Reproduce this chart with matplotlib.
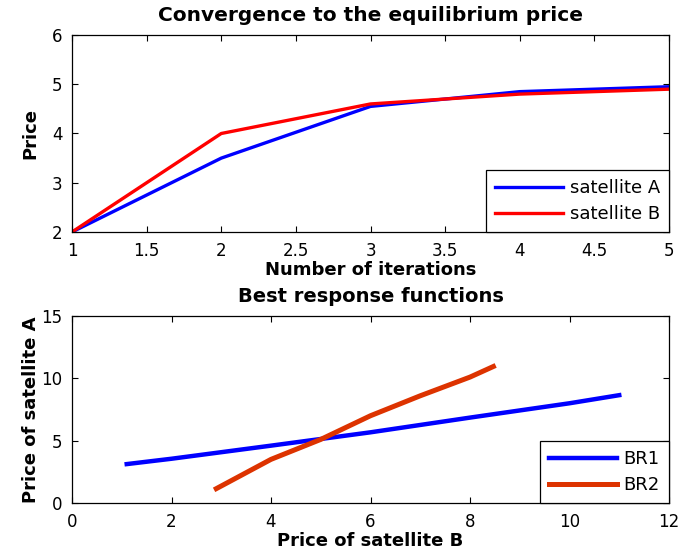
import numpy as np
import matplotlib
matplotlib.use('Agg')
import matplotlib.pyplot as plt

plt.rcParams['font.family'] = 'DejaVu Sans'

# iteration path of prices
iterations = [1, 2, 3, 4, 5]
price_a = [2.0, 3.5, 4.55, 4.85, 4.95]
price_b = [2.0, 4.0, 4.6, 4.8, 4.9]

# best response curves (price of B on x, price of A on y)
br1_x = [1.1, 2.0, 4.0, 6.0, 8.0, 10.0, 11.0]
br1_y = [3.12, 3.55, 4.6, 5.67, 6.85, 8.0, 8.65]
br2_x = [2.9, 4.0, 5.0, 6.0, 7.0, 8.0, 8.47]
br2_y = [1.15, 3.5, 5.1, 7.0, 8.6, 10.1, 10.95]

fig = plt.figure(figsize=(6.81, 5.57), dpi=100)
ax1 = fig.add_axes([72/681, 1-232/557, 597/681, 197/557])
ax2 = fig.add_axes([72/681, 1-503/557, 597/681, 187/557])

def matlab_style(ax):
    ax.tick_params(direction='in', top=True, right=True, labelsize=12,
                   length=4, width=0.8, pad=7)
    for s in ax.spines.values():
        s.set_linewidth(0.9)

def boxed_legend(ax):
    leg = ax.legend(loc='lower right', fontsize=13, fancybox=False, edgecolor='black',
                    framealpha=1, borderaxespad=0, handlelength=3.8, borderpad=0.5,
                    labelspacing=0.45, handletextpad=0.35)
    leg.get_frame().set_linewidth(0.9)

#%% top panel
ax1.plot(iterations, price_a, color='#0000ff', lw=2.4, label='satellite A')
ax1.plot(iterations, price_b, color='#ff0000', lw=2.4, label='satellite B')
ax1.set_xlim(1, 5)
ax1.set_ylim(2, 6)
ax1.set_xticks(np.arange(1, 5.01, 0.5))
ax1.set_xticklabels(['1', '1.5', '2', '2.5', '3', '3.5', '4', '4.5', '5'])
ax1.set_yticks([2, 3, 4, 5, 6])
ax1.set_title('Convergence to the equilibrium price', fontsize=14.5, fontweight='bold', pad=10)
ax1.set_xlabel('Number of iterations', fontsize=13, fontweight='bold', labelpad=1)
ax1.set_ylabel('Price', fontsize=13, fontweight='bold', labelpad=9)
matlab_style(ax1)
boxed_legend(ax1)

#%% bottom panel
ax2.plot(br1_x, br1_y, color='#0000ff', lw=3.2, label='BR1')
ax2.plot(br2_x, br2_y, color='#dd3300', lw=3.6, label='BR2')
ax2.set_xlim(0, 12)
ax2.set_ylim(0, 15)
ax2.set_xticks([0, 2, 4, 6, 8, 10, 12])
ax2.set_yticks([0, 5, 10, 15])
ax2.set_title('Best response functions', fontsize=14, fontweight='bold', pad=10)
ax2.set_xlabel('Price of satellite B', fontsize=13, fontweight='bold', labelpad=1)
ax2.set_ylabel('Price of satellite A', fontsize=13, fontweight='bold', labelpad=1)
matlab_style(ax2)
boxed_legend(ax2)

fig.savefig('out.png', dpi=100)
